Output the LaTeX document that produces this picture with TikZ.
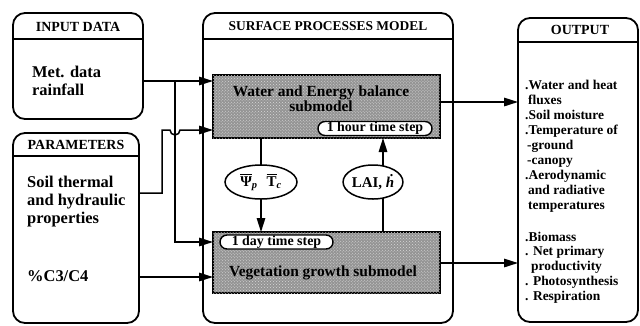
\documentclass[tikz,border=0pt]{standalone}
\usepackage{fontspec}
\usepackage{amsmath}
\setmainfont{Liberation Serif}
\usetikzlibrary{arrows.meta,patterns,shapes.geometric,calc}
\begin{document}
\begin{tikzpicture}[x=1bp,y=-1bp,
  bigbox/.style={draw, line width=1.8bp, rounded corners=12bp, inner sep=0pt, outer sep=0pt},
  shadebox/.style={draw, line width=1.6bp, fill=black!42, inner sep=0pt, outer sep=0pt,
     postaction={pattern=crosshatch dots, pattern color=white!85!black}},
  pill/.style={draw, line width=1.4bp, fill=white, rounded corners=7bp, inner sep=0pt,
     minimum height=14bp, font=\bfseries\fontsize{14}{14}\selectfont},
  ell/.style={draw, ellipse, line width=1.5bp, fill=white, inner sep=0pt, font=\bfseries\fontsize{15}{15}\selectfont},
  head/.style={font=\bfseries\fontsize{14}{15}\selectfont, inner sep=0pt},
  lefttxt/.style={font=\bfseries\fontsize{16.5}{18.5}\selectfont, align=left, inner sep=0pt, anchor=west},
  subtxt/.style={font=\bfseries\fontsize{15.5}{15}\selectfont, align=center, inner sep=0pt},
  outtxt/.style={font=\bfseries\fontsize{13.5}{15}\selectfont, align=left, inner sep=0pt, anchor=north west},
  hline/.style={line width=1.5bp},
  arr/.style={line width=1.5bp, -{Triangle[length=14bp,width=8.5bp]}}]
\useasboundingbox (0,0) rectangle (640,325);

% ---------- big boxes ----------
\node[bigbox, minimum width=130bp, minimum height=106bp] (input) at (78,66) {};
\node[bigbox, minimum width=126bp, minimum height=190bp] (param) at (76,228) {};
\node[bigbox, minimum width=250bp, minimum height=310bp] (model) at (328,168) {};
\node[bigbox, minimum width=120bp, minimum height=304bp] (output) at (578,170) {};

\draw[hline] (input.west |- 0,39) -- (input.east |- 0,39);
\draw[hline] (param.west |- 0,156) -- (param.east |- 0,156);
\draw[hline] (model.west |- 0,39) -- (model.east |- 0,39);
\draw[hline] (output.west |- 0,42) -- (output.east |- 0,42);

\node[head] (inhead) at (78,26.5) {INPUT DATA};
\node[head] (parhead) at (76,145) {PARAMETERS};
\node[head, font=\bfseries\fontsize{13.5}{15}\selectfont] (modhead) at (328,26.5) {SURFACE PROCESSES MODEL};
\node[head] (outhead) at (580,30) {OUTPUT};

% ---------- left texts ----------
\node[lefttxt] (met) at (32,81) {Met. data\\rainfall};
\node[lefttxt] (soil) at (27,201.5) {Soil thermal\\and hydraulic\\properties};
\node[lefttxt] (c3) at (27,276) {\%C3/C4};

% ---------- submodels ----------
\node[shadebox, minimum width=227bp, minimum height=63bp] (wat) at (326.5,106.5) {};
\node[subtxt] (wattxt) at (321,99) {Water and Energy balance\\submodel};
\node[pill, minimum width=114bp] (hour) at (375,128.5) {1 hour time step};

\node[shadebox, minimum width=227bp, minimum height=61bp] (veg) at (326.5,262.5) {};
\node[pill, minimum width=113bp] (day) at (276.5,242) {1 day time step};
\node[subtxt] (vegtxt) at (323,273) {Vegetation growth submodel};

% ---------- exchange ellipses ----------
\coordinate (lx) at (261,0);
\coordinate (rx) at (383,0);
\draw[arr] (wat.south -| lx) -- (veg.north -| lx);
\draw[arr] (veg.north -| rx) -- (wat.south -| rx);
\node[ell, minimum width=72bp, minimum height=34bp] (psi) at (261,182)
  {$\overline{\text{Ψ}}_{\text{\itshape p}}$\hspace{9bp}$\overline{\text{T}}_{\text{\itshape c}}$};
\node[ell, minimum width=56bp, minimum height=34bp] (lai) at (373,182) {LAI, {\itshape ḣ}};

% ---------- input connectors ----------
\coordinate (ja) at (175,81);
\coordinate (sa) at (162,193);
\coordinate (sb) at (162,130);
\draw[arr] (input.east |- ja) -- (wat.west |- ja);
\draw[arr] (ja) |- (veg.west |- 0,242);
\draw[arr] (param.east |- sa) -- (sa) -- (sb) -- ($(ja |- sb)+(-5,0)$)
   arc[start angle=180, end angle=0, radius=5] -- (wat.west |- sb);
\draw[arr] (param.east |- 0,277) -- (veg.west |- 0,277);

% ---------- output connectors ----------
\draw[arr] (wat.east |- 0,102) -- (output.west |- 0,102);
\draw[arr] (veg.east |- 0,263) -- (output.west |- 0,263);

% ---------- output text ----------
\node[outtxt] (outlist) at (525,80) {.Water and heat\\
\hspace{3bp}fluxes\\
.Soil moisture\\
.Temperature of\\
\hspace{2bp}-ground\\
\hspace{2bp}-canopy\\
.Aerodynamic\\
\hspace{3bp}and radiative\\
\hspace{3bp}temperatures\\[17bp]
.Biomass\\
. Net primary\\
\hspace{6bp}productivity\\
. Photosynthesis\\
. Respiration};
\end{tikzpicture}
\end{document}
